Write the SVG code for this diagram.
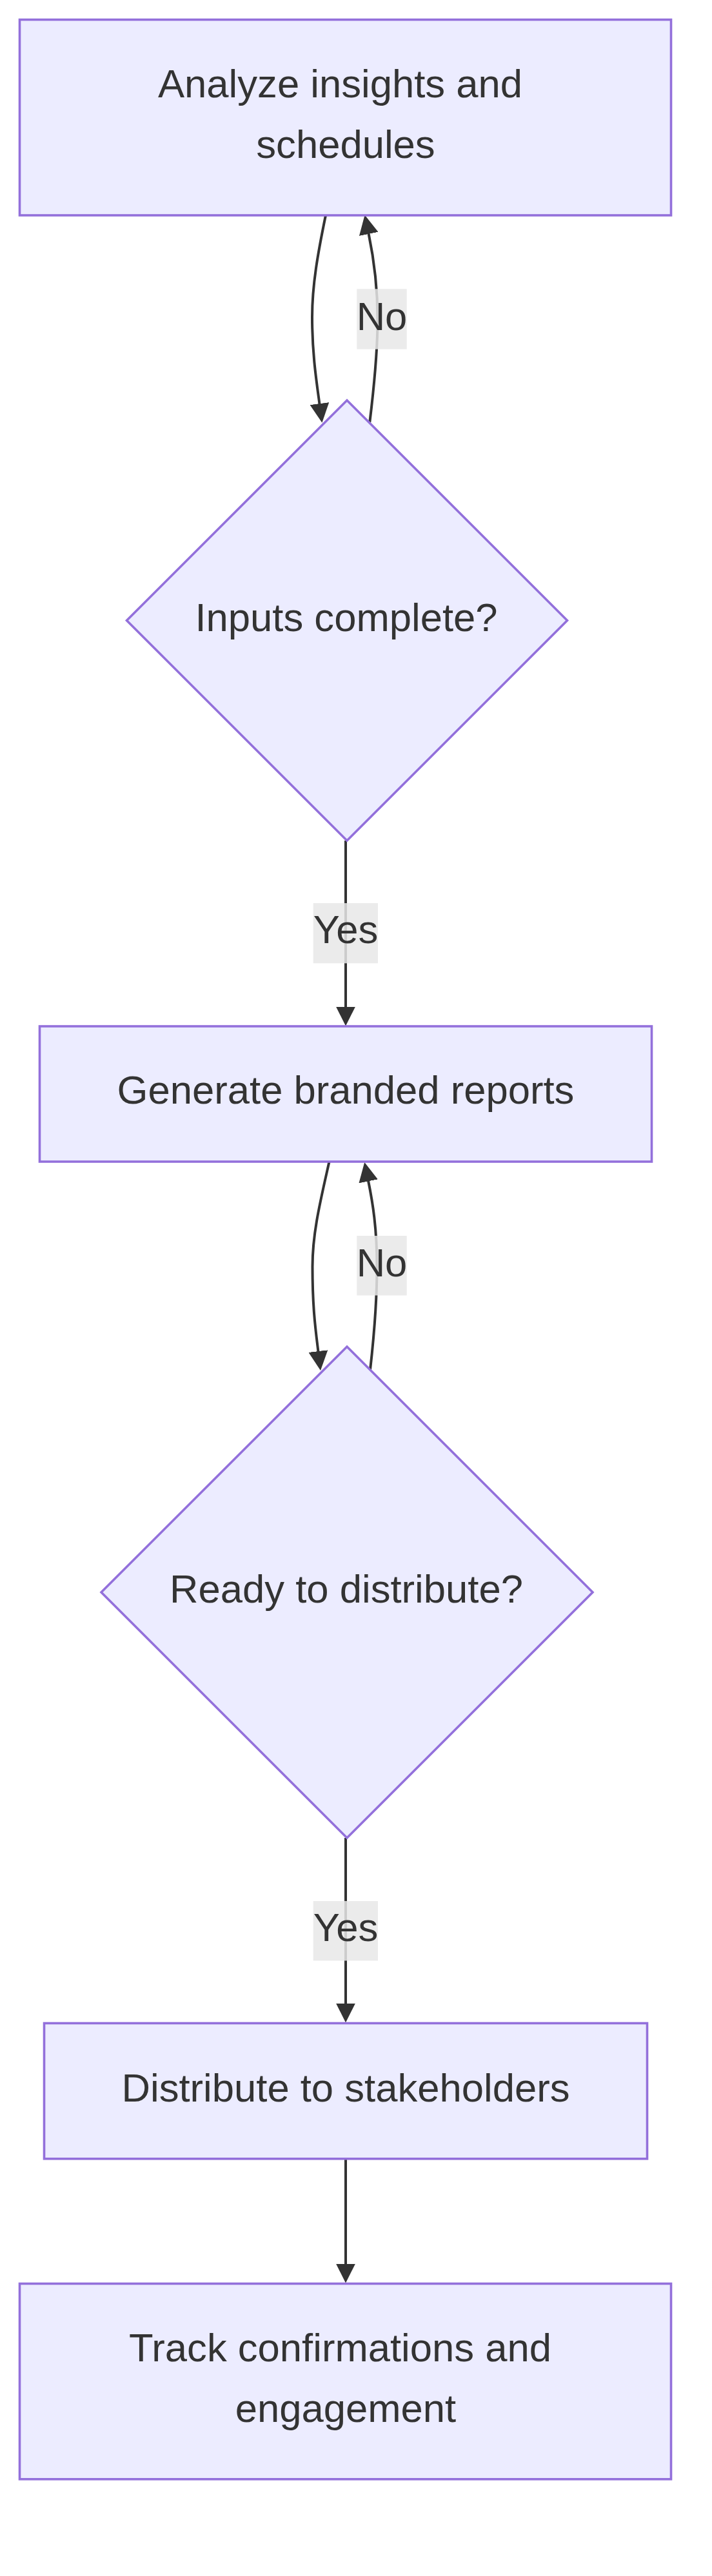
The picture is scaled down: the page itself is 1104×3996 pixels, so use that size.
<svg xmlns="http://www.w3.org/2000/svg" width="1104" height="3996" viewBox="0 0 1104 3996">
<style>
.node{fill:#ECECFF;stroke:#9370DB;stroke-width:3.6}
.lbl{font-family:"Liberation Sans",Arial,sans-serif;font-size:61.6px;fill:#333333;text-anchor:middle}
.edge{fill:none;stroke:#333333;stroke-width:4}
.ebg{fill:#e8e8e8;fill-opacity:0.85}
</style>
<defs>
<marker id="arrow" viewBox="0 0 10 10" refX="0.3" refY="5" markerUnits="userSpaceOnUse" markerWidth="30" markerHeight="30" orient="auto">
<path d="M0,0 L10,5 L0,10 z" fill="#333333"/>
</marker>
</defs>
<rect width="1104" height="3996" fill="#ffffff"/>
<g id="connectors">
<path class="edge" d="M505,334 C493,392 484,442 484,492 C484,548 490.5,590 495.5,627" marker-end="url(#arrow)"/>
<path class="edge" d="M573.3,655 C580,600 585.5,548 585.5,495 C585.5,440 579,398 571.5,362" marker-end="url(#arrow)"/>
<path class="edge" d="M536,1304 L536,1562.5" marker-end="url(#arrow)"/>
<path class="edge" d="M510.5,1802 C497,1862 484.5,1912 484.5,1965 C484.5,2030 489.5,2064 493.5,2097" marker-end="url(#arrow)"/>
<path class="edge" d="M574,2125 C580,2072 584.5,2020 584.5,1965 C584.5,1905 578,1866 571,1831.5" marker-end="url(#arrow)"/>
<path class="edge" d="M536,2851 L536,3108.5" marker-end="url(#arrow)"/>
<path class="edge" d="M536,3349 L536,3512.5" marker-end="url(#arrow)"/>
<g id="label-no-1">
<rect class="ebg" x="553.3" y="448.3" width="77.4" height="93.4"/>
<text class="lbl" x="592" y="511.7">No</text>
</g>
<g id="label-yes-1">
<rect class="ebg" x="485.7" y="1401" width="100.3" height="93.3"/>
<text class="lbl" x="536" y="1463.3">Yes</text>
</g>
<g id="label-no-2">
<rect class="ebg" x="553.3" y="1917" width="77.4" height="92.5"/>
<text class="lbl" x="592" y="1979.5">No</text>
</g>
<g id="label-yes-2">
<rect class="ebg" x="485.7" y="2949" width="100.3" height="92.5"/>
<text class="lbl" x="536" y="3011">Yes</text>
</g>
</g>
<g id="node-analyze">
<rect class="node" x="30.5" y="30.5" width="1010" height="303.5"/>
<text class="lbl" x="527.5" y="151">Analyze insights and</text>
<text class="lbl" x="536" y="245">schedules</text>
</g>
<g id="node-inputs">
<polygon class="node" points="538,621 879.5,962.5 538,1304 196.5,962.5"/>
<text class="lbl" x="537" y="979.3">Inputs complete?</text>
</g>
<g id="node-generate">
<rect class="node" x="61.5" y="1592" width="949" height="210"/>
<text class="lbl" x="536" y="1712">Generate branded reports</text>
</g>
<g id="node-ready">
<polygon class="node" points="538,2089 919,2470 538,2851 157,2470"/>
<text class="lbl" x="537" y="2486">Ready to distribute?</text>
</g>
<g id="node-distribute">
<rect class="node" x="68.5" y="3138.5" width="935" height="210.3"/>
<text class="lbl" x="536" y="3260">Distribute to stakeholders</text>
</g>
<g id="node-track">
<rect class="node" x="30.5" y="3542.5" width="1010" height="303.3"/>
<text class="lbl" x="527.5" y="3663">Track confirmations and</text>
<text class="lbl" x="536" y="3757">engagement</text>
</g>
</svg>
